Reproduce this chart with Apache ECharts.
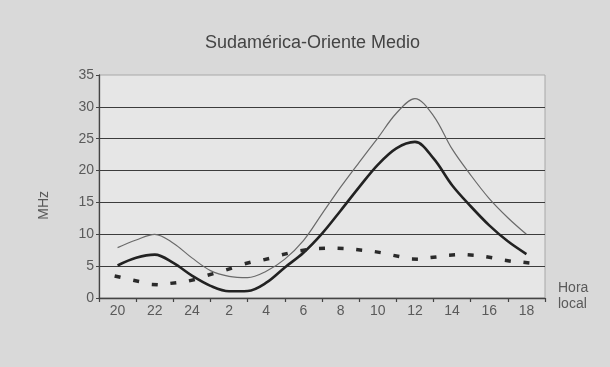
<!DOCTYPE html>
<html>
<head>
<meta charset="utf-8">
<script src="https://cdn.jsdelivr.net/npm/echarts@6/dist/echarts.min.js"></script>
<style>
  html, body { margin: 0; padding: 0; background: #d9d9d9; }
  #chart { width: 610px; height: 367px; }
</style>
</head>
<body>
<div id="chart"></div>
<script>
// Tick labels on the hour axis (every two hours, local time)
const hourLabels = ['20', '22', '24', '2', '4', '6', '8', '10', '12', '14', '16', '18'];

// Hourly sample times, from 20 h to 18 h of the next day
const hours = [20, 21, 22, 23, 24, 1, 2, 3, 4, 5, 6, 7, 8, 9, 10, 11, 12, 13, 14, 15, 16, 17, 18];

// Frequencies in MHz
const upperMHz = [7.9, 9.1, 10.0, 8.6, 6.3, 4.3, 3.4, 3.2, 4.2, 6.1, 9.0, 13.2, 17.4, 21.3, 25.1, 29.0, 31.3, 28.6, 23.4, 19.3, 15.6, 12.6, 10.0];
const middleMHz = [5.1, 6.3, 6.8, 5.5, 3.5, 1.9, 1.05, 1.1, 2.4, 4.8, 7.1, 10.1, 13.7, 17.4, 20.9, 23.5, 24.5, 21.9, 17.7, 14.4, 11.4, 8.9, 6.9];
const lowerMHz = [3.35, 2.7, 2.1, 2.35, 2.8, 3.7, 4.55, 5.5, 6.1, 6.9, 7.5, 7.8, 7.8, 7.55, 7.2, 6.6, 6.1, 6.4, 6.75, 6.75, 6.4, 5.85, 5.55];

// Continuous time: hours after midnight of the first evening
const timeOf = h => (h < 20 ? h + 24 : h);
const pairs = vals => hours.map((h, i) => [timeOf(h), vals[i]]);

const lowerPairs = pairs(lowerMHz);
// Tilt each dash of the lower curve along the local slope (pixels per unit)
const pxPerHour = 18.6, pxPerMHz = 6.37;
function dashAngle(value, params) {
  const i = params.dataIndex;
  const a = lowerPairs[Math.max(0, i - 1)];
  const b = lowerPairs[Math.min(lowerPairs.length - 1, i + 1)];
  const dy = (b[1] - a[1]) * pxPerMHz;
  const dx = (b[0] - a[0]) * pxPerHour;
  return Math.atan2(dy, dx) * 180 / Math.PI;
}

const font = "'Liberation Sans Narrow', 'Liberation Sans', Arial, sans-serif";
const chart = echarts.init(document.getElementById('chart'), null, { renderer: 'canvas' });

chart.setOption({
  backgroundColor: '#d9d9d9',
  animation: false,
  title: {
    text: 'Sudamérica-Oriente Medio',
    left: 200,
    top: 29,
    textStyle: { fontFamily: "'Liberation Sans', Arial, sans-serif", fontSize: 18, fontWeight: 'normal', color: '#444' }
  },
  grid: {
    left: 99, right: 65, top: 75, bottom: 69,
    show: true,
    backgroundColor: '#e6e6e6',
    borderColor: '#a8a8a8',
    borderWidth: 1
  },
  xAxis: [
    {
      type: 'category',
      data: hourLabels,
      boundaryGap: true,
      axisLine: { lineStyle: { color: '#444', width: 1.3 } },
      axisTick: { show: true, length: 4, lineStyle: { color: '#444', width: 1.2 } },
      axisLabel: { color: '#5a5a5a', fontSize: 14, fontFamily: font, margin: 6 },
      splitLine: { show: false }
    },
    {
      type: 'value',
      min: 19,
      max: 43,
      show: false,
      splitLine: { show: false }
    }
  ],
  yAxis: {
    type: 'value',
    min: 0,
    max: 35,
    interval: 5,
    axisLine: { show: true, lineStyle: { color: '#444', width: 1.3 } },
    axisTick: { show: true, length: 3, lineStyle: { color: '#444' } },
    axisLabel: { color: '#5a5a5a', fontSize: 14, fontFamily: font, margin: 5 },
    splitLine: { show: true, showMinLine: false, showMaxLine: false, lineStyle: { color: '#3c3c3c', width: 1.2 } }
  },
  graphic: [
    {
      type: 'text', left: 37, top: 191, rotation: Math.PI / 2,
      style: { text: 'MHz', fill: '#5a5a5a', font: "14px " + font }
    },
    {
      type: 'text', left: 558, top: 280,
      style: { text: 'Hora\nlocal', fill: '#5a5a5a', font: "14px " + font, align: 'center', lineHeight: 16 }
    }
  ],
  series: [
    {
      name: 'upper',
      type: 'line',
      xAxisIndex: 1,
      data: pairs(upperMHz),
      smooth: 0.35,
      showSymbol: false,
      lineStyle: { color: '#6a6a6a', width: 1.2 },
      z: 3
    },
    {
      name: 'middle',
      type: 'line',
      xAxisIndex: 1,
      data: pairs(middleMHz),
      smooth: 0.35,
      showSymbol: false,
      lineStyle: { color: '#222', width: 2.6 },
      z: 4
    },
    {
      name: 'lower',
      type: 'scatter',
      xAxisIndex: 1,
      data: lowerPairs,
      symbol: 'rect',
      symbolSize: [6, 3.5],
      symbolRotate: dashAngle,
      itemStyle: { color: '#2a2a2a', opacity: 1, borderWidth: 0 },
      z: 5
    }
  ]
});
</script>
</body>
</html>
